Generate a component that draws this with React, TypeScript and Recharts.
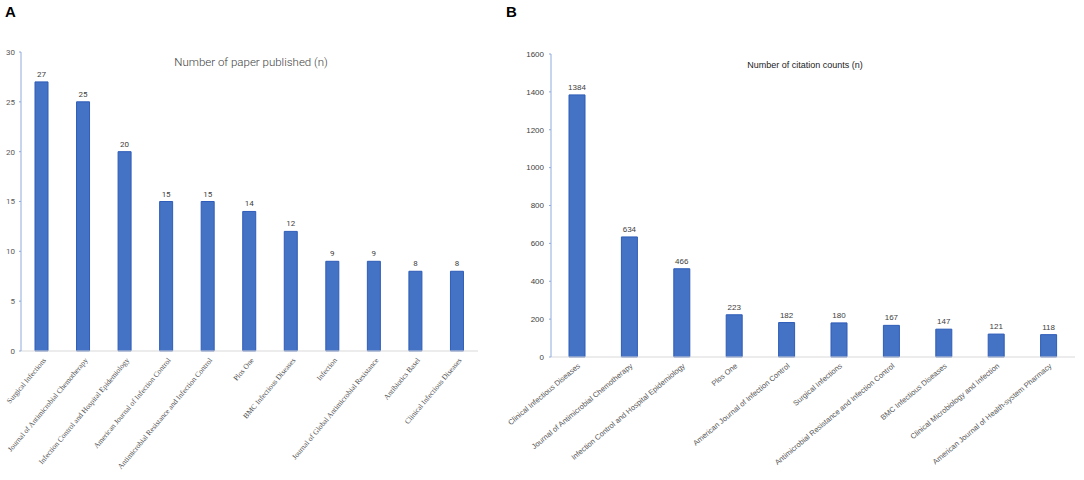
import React from "react";
import { BarChart, Bar, XAxis, YAxis, LabelList } from "recharts";

const journalsA = [
  "Surgical Infections",
  "Journal of Antimicrobial Chemotherapy",
  "Infection Control and Hospital Epidemiology",
  "American Journal of Infection Control",
  "Antimicrobial Resistance and Infection Control",
  "Plos One",
  "BMC Infectious Diseases",
  "Infection",
  "Journal of Global Antimicrobial Resistance",
  "Antibiotics Basel",
  "Clinical Infectious Diseases",
];
const papers = [27, 25, 20, 15, 15, 14, 12, 9, 9, 8, 8];
const ticksA = [0, 5, 10, 15, 20, 25, 30];

const journalsB = [
  "Clinical Infectious Diseases",
  "Journal of Antimicrobial Chemotherapy",
  "Infection Control and Hospital Epidemiology",
  "Plos One",
  "American Journal of Infection Control",
  "Surgical Infections",
  "Antimicrobial Resistance and Infection Control",
  "BMC Infectious Diseases",
  "Clinical Microbiology and Infection",
  "American Journal of Health-system Pharmacy",
];
const citations = [1384, 634, 466, 223, 182, 180, 167, 147, 121, 118];
const ticksB = [0, 200, 400, 600, 800, 1000, 1200, 1400, 1600];

const dataA = journalsA.map((name, i) => ({ name, value: papers[i] }));
const dataB = journalsB.map((name, i) => ({ name, value: citations[i] }));

const NARROW = "Roboto, 'Liberation Sans', sans-serif";
const SANS = "'Liberation Sans', Arial, sans-serif";
const SERIF = "'Liberation Serif', 'Times New Roman', serif";

const TickA = (props: any) => {
  const { x, y, payload } = props;
  const ax = x + 3;
  const ay = y + 8;
  return (
    <text
      x={ax}
      y={ay}
      dy="0.3em"
      textAnchor="end"
      transform={`rotate(-50 ${ax} ${ay})`}
      fontSize={7.5}
      fontFamily={SERIF}
      fill="#505050"
    >
      {payload.value}
    </text>
  );
};

const TickB = (props: any) => {
  const { x, y, payload } = props;
  const ax = x + 2;
  const ay = y + 8;
  return (
    <text
      x={ax}
      y={ay}
      dy="0.3em"
      textAnchor="end"
      transform={`rotate(-40 ${ax} ${ay})`}
      fontSize={7.5}
      fontFamily={SANS}
      fill="#595959"
    >
      {payload.value}
    </text>
  );
};

export default function App() {
  return (
    <div
      style={{
        position: "fixed",
        left: 0,
        top: 0,
        width: 1084,
        height: 480,
        background: "#fff",
        overflow: "hidden",
      }}
    >
      <div
        style={{
          position: "absolute",
          left: 5,
          top: 3,
          fontFamily: SANS,
          fontWeight: "bold",
          fontSize: 15,
          color: "#000",
        }}
      >
        A
      </div>
      <div
        style={{
          position: "absolute",
          left: 506,
          top: 3,
          fontFamily: SANS,
          fontWeight: "bold",
          fontSize: 15,
          color: "#000",
        }}
      >
        B
      </div>

      <div style={{ position: "absolute", left: 0, top: 0 }}>
        <BarChart
          width={520}
          height={480}
          data={dataA}
          margin={{ top: 52, right: 42, bottom: 0, left: 0 }}
          barSize={13}
        >
          <XAxis
            dataKey="name"
            interval={0}
            height={129}
            tickSize={0}
            tickMargin={0}
            tick={<TickA />}
            axisLine={{ stroke: "#d9d9d9" }}
          />
          <YAxis
            width={21}
            domain={[0, 30]}
            ticks={ticksA}
            tickSize={2}
            tickMargin={4}
            axisLine={{ stroke: "#8faadc" }}
            tickLine={{ stroke: "#8faadc" }}
            tick={{ fontSize: 8, fontFamily: NARROW, fill: "#595959" }}
          />
          <Bar dataKey="value" fill="#4472c4" stroke="#2e5cb8" strokeWidth={1} isAnimationActive={false}>
            <LabelList
              dataKey="value"
              position="top"
              offset={5}
              style={{ fontSize: 8, fontFamily: NARROW, fill: "#404040" }}
            />
          </Bar>
        </BarChart>
      </div>
      <div
        style={{
          position: "absolute",
          left: 251,
          top: 55,
          transform: "translateX(-50%)",
          fontFamily: NARROW,
          fontWeight: 300,
          fontSize: 11.5,
          color: "#404040",
          whiteSpace: "nowrap",
        }}
      >
        Number of paper published (n)
      </div>

      <div style={{ position: "absolute", left: 500, top: 0 }}>
        <BarChart
          width={584}
          height={480}
          data={dataB}
          margin={{ top: 54, right: 9, bottom: 0, left: 0 }}
          barSize={16}
        >
          <XAxis
            dataKey="name"
            interval={0}
            height={123}
            tickSize={0}
            tickMargin={0}
            tick={<TickB />}
            axisLine={{ stroke: "#d9d9d9" }}
          />
          <YAxis
            width={51}
            domain={[0, 1600]}
            ticks={ticksB}
            tickSize={2}
            tickMargin={5}
            axisLine={{ stroke: "#8faadc" }}
            tickLine={{ stroke: "#8faadc" }}
            tick={{ fontSize: 8, fontFamily: SANS, fill: "#404040" }}
          />
          <Bar dataKey="value" fill="#4472c4" stroke="#2e5cb8" strokeWidth={1} isAnimationActive={false}>
            <LabelList
              dataKey="value"
              position="top"
              offset={5}
              style={{ fontSize: 8, fontFamily: SANS, fill: "#404040" }}
            />
          </Bar>
        </BarChart>
      </div>
      <div
        style={{
          position: "absolute",
          left: 805,
          top: 60,
          transform: "translateX(-50%)",
          fontFamily: SANS,
          fontSize: 9,
          color: "#222",
          whiteSpace: "nowrap",
        }}
      >
        Number of citation counts (n)
      </div>
    </div>
  );
}
